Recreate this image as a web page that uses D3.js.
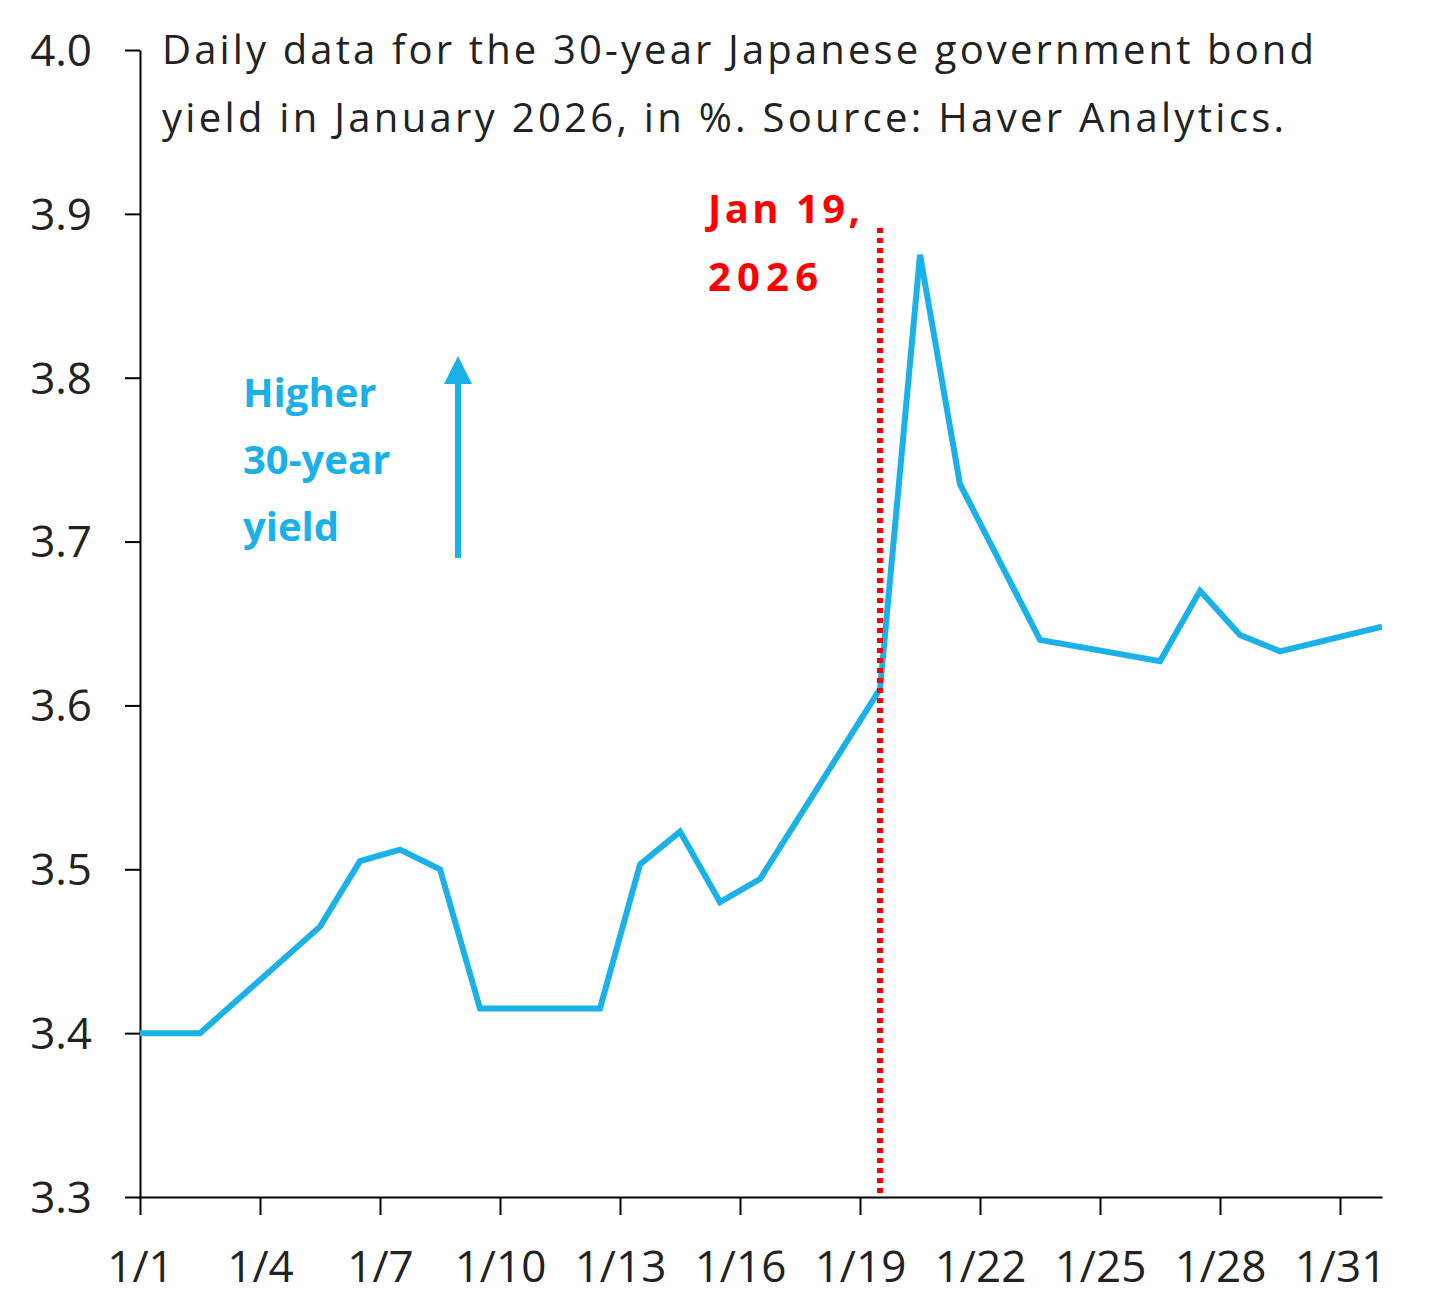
<!DOCTYPE html>
<html>
<head>
<meta charset="utf-8">
<script src="https://cdn.jsdelivr.net/npm/d3@7"></script>
<style>
  body { margin: 0; background: #fff; }
  text { font-family: "Open Sans", Lato, sans-serif; }
</style>
</head>
<body>
<div id="chart"></div>
<script>
// Day of January (x.5 = that day's observation), yield in %
const days   = [0.5, 2.5, 5.5, 6.5, 7.5, 8.5, 9.5, 12.5, 13.5, 14.5, 15.5, 16.5, 19.5, 20.5, 21.5, 23.5, 26.5, 27.5, 28.5, 29.5, 32.05];
const yields = [3.40, 3.40, 3.465, 3.505, 3.512, 3.50, 3.415, 3.415, 3.503, 3.523, 3.48, 3.494, 3.61, 3.875, 3.735, 3.64, 3.627, 3.67, 3.643, 3.633, 3.648];
const tickDays = [1, 4, 7, 10, 13, 16, 19, 22, 25, 28, 31];
const yTicks = [3.3, 3.4, 3.5, 3.6, 3.7, 3.8, 3.9, 4.0];
const eventDay = 19.5;

const W = 1446, H = 1311;
const svg = d3.select("#chart").append("svg").attr("width", W).attr("height", H);

const x = d3.scaleLinear().domain([1, 32.05]).range([140, 1382]);
const y = d3.scaleLinear().domain([3.3, 4.0]).range([1197, 50]);
const blue = "#1ab0e8";

svg.append("clipPath").attr("id", "clip").append("rect")
    .attr("x", 140).attr("y", 0).attr("width", 1242).attr("height", 1197);

// Y axis
const ya = svg.append("g").attr("transform", "translate(140,0)")
    .call(d3.axisLeft(y).tickValues(yTicks).tickFormat(d3.format(".1f")).tickSize(15).tickSizeOuter(0));
ya.select(".domain").attr("stroke", "#000").attr("stroke-width", 2);
ya.selectAll(".tick line").attr("stroke-width", 2);
ya.selectAll("text").attr("font-size", 44).attr("fill", "#222").attr("x", -48).attr("dy", "0.35em");

// X axis
const xa = svg.append("g").attr("transform", "translate(0,1197)")
    .call(d3.axisBottom(x).tickValues(tickDays).tickFormat(d => "1/" + d).tickSize(18).tickSizeOuter(0));
xa.select(".domain").attr("stroke", "#000").attr("stroke-width", 2);
xa.selectAll(".tick line").attr("stroke-width", 2);
xa.selectAll("text").attr("font-size", 44).attr("fill", "#222").attr("y", 70).attr("dy", "0.35em");

// Series
const line = d3.line().x((d, i) => x(days[i])).y(d => y(d));
svg.append("path").datum(yields)
    .attr("clip-path", "url(#clip)")
    .attr("d", line).attr("fill", "none").attr("stroke", blue)
    .attr("stroke-width", 6).attr("stroke-linejoin", "miter");

// Event marker
svg.append("line")
    .attr("x1", x(eventDay)).attr("x2", x(eventDay))
    .attr("y1", 228).attr("y2", y(3.3))
    .attr("stroke", "#ff0000").attr("stroke-width", 6).attr("stroke-dasharray", "5,5");
svg.append("text").attr("x", 708).attr("y", 223).attr("font-size", 40).attr("font-weight", "bold")
    .attr("fill", "#ff0000").attr("textLength", 152).text("Jan 19,");
svg.append("text").attr("x", 708).attr("y", 291).attr("font-size", 40).attr("font-weight", "bold")
    .attr("fill", "#ff0000").attr("textLength", 110).text("2026");

// Title
svg.append("text").attr("x", 162).attr("y", 64).attr("font-size", 40).attr("fill", "#222")
    .attr("textLength", 1152).text("Daily data for the 30-year Japanese government bond");
svg.append("text").attr("x", 162).attr("y", 132).attr("font-size", 40).attr("fill", "#222")
    .attr("textLength", 1122).text("yield in January 2026, in %. Source: Haver Analytics.");

// Higher yield note + arrow
["Higher", "30-year", "yield"].forEach((t, i) => {
  svg.append("text").attr("x", 243).attr("y", 407 + i * 67).attr("font-size", 40)
      .attr("font-weight", "bold").attr("fill", blue).text(t);
});
svg.append("line").attr("x1", 458).attr("x2", 458).attr("y1", 558).attr("y2", 380)
    .attr("stroke", blue).attr("stroke-width", 6);
svg.append("path").attr("d", "M444,384 L458,356 L472,384 Z").attr("fill", blue);
</script>
</body>
</html>
